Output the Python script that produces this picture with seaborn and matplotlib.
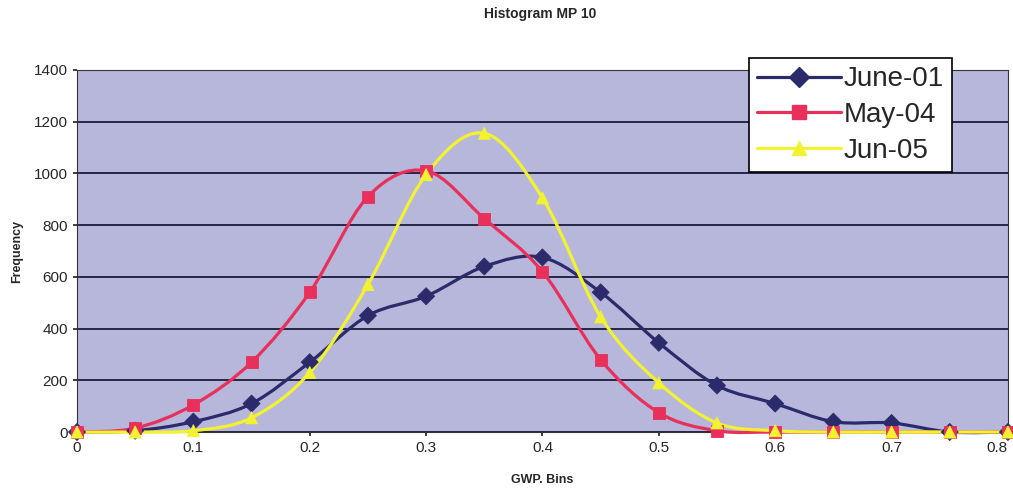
import pandas as pd
import seaborn as sns
import matplotlib.pyplot as plt
from matplotlib.path import Path
from matplotlib.patches import PathPatch
from matplotlib.lines import Line2D

# values
bins = [0, 0.05, 0.1, 0.15, 0.2, 0.25, 0.3, 0.35, 0.4, 0.45, 0.5, 0.55, 0.6, 0.65, 0.7, 0.75, 0.8]
june_01 = [0, 5, 40, 110, 270, 450, 525, 640, 675, 540, 345, 180, 110, 40, 35, 0, 0]
may_04 = [0, 15, 105, 270, 540, 910, 1010, 825, 620, 280, 75, 5, 0, 0, 0, 0, 0]
jun_05 = [0, 0, 5, 55, 230, 570, 995, 1155, 905, 445, 190, 35, 5, 0, 0, 0, 0]

series = ['June-01', 'May-04', 'Jun-05']
palette = {'June-01': '#2b2b6b', 'May-04': '#e8305a', 'Jun-05': '#f2f230'}
markers = {'June-01': 'D', 'May-04': 's', 'Jun-05': '^'}

df = pd.DataFrame({'GWP. Bins': bins, 'June-01': june_01, 'May-04': may_04, 'Jun-05': jun_05})
df_long = df.melt(id_vars='GWP. Bins', var_name='Series', value_name='Frequency')


def smooth_path(xs, ys):
    # excel-style smoothed line: bezier segments through the points
    verts = [(xs[0], ys[0])]
    codes = [Path.MOVETO]
    n = len(xs)
    for i in range(n - 1):
        x0, y0 = xs[max(i - 1, 0)], ys[max(i - 1, 0)]
        x1, y1 = xs[i], ys[i]
        x2, y2 = xs[i + 1], ys[i + 1]
        x3, y3 = xs[min(i + 2, n - 1)], ys[min(i + 2, n - 1)]
        c1 = (x1 + (x2 - x0) / 6, y1 + (y2 - y0) / 6)
        c2 = (x2 - (x3 - x1) / 6, y2 - (y3 - y1) / 6)
        verts += [c1, c2, (x2, y2)]
        codes += [Path.CURVE4] * 3
    return Path(verts, codes)


sns.set_theme(style='white')
plt.rcParams['font.family'] = ['Liberation Sans', 'DejaVu Sans']

fig = plt.figure(figsize=(10.13, 4.96), dpi=100)
ax = fig.add_axes([0.076, 0.129, 0.919, 0.730])
ax.set_facecolor('#b7b7dc')

for s in series:
    ax.add_patch(PathPatch(smooth_path(bins, df[s].tolist()), fill=False,
                           edgecolor=palette[s], linewidth=2.3, zorder=4, clip_on=False))

sns.scatterplot(data=df_long, x='GWP. Bins', y='Frequency', hue='Series', style='Series',
                palette=palette, markers=markers, s=75, linewidth=0.6,
                edgecolor='face', legend=False, ax=ax, clip_on=False, zorder=5)

ax.set_xlim(0, 0.8)
ax.set_ylim(0, 1400)
ax.set_xticks([i / 10 for i in range(9)])
ax.set_xticklabels(['0', '0.1', '0.2', '0.3', '0.4', '0.5', '0.6', '0.7', '0.8'])
ax.get_xticklabels()[-1].set_horizontalalignment('right')
ax.set_yticks(range(0, 1401, 200))
ax.yaxis.grid(True, color='#1a1a3a', linewidth=1.3)
ax.xaxis.grid(False)
ax.tick_params(axis='both', labelsize=11, length=3, direction='out', bottom=True, left=True)
for sp in ax.spines.values():
    sp.set_color('#333333')
    sp.set_linewidth(0.8)

ax.set_xlabel('GWP. Bins', fontsize=9, fontweight='bold', labelpad=14)
ax.set_ylabel('Frequency', fontsize=9, fontweight='bold', labelpad=8)
fig.suptitle('Histogram MP 10', x=0.533, y=0.985, fontsize=10, fontweight='bold')

handles = [Line2D([], [], color=palette[s], marker=markers[s], markersize=10,
                  markeredgecolor=palette[s], linewidth=2.3) for s in series]
leg = ax.legend(handles, series, loc='upper right', bbox_to_anchor=(0.94, 1.033), fontsize=20,
                frameon=True, fancybox=False, edgecolor='black', framealpha=1,
                handlelength=3.0, borderpad=0.3, labelspacing=0.35, handletextpad=0.1,
                borderaxespad=0)
leg.get_frame().set_linewidth(1.2)
leg.set_zorder(10)

fig.savefig('out.png', dpi=100)
